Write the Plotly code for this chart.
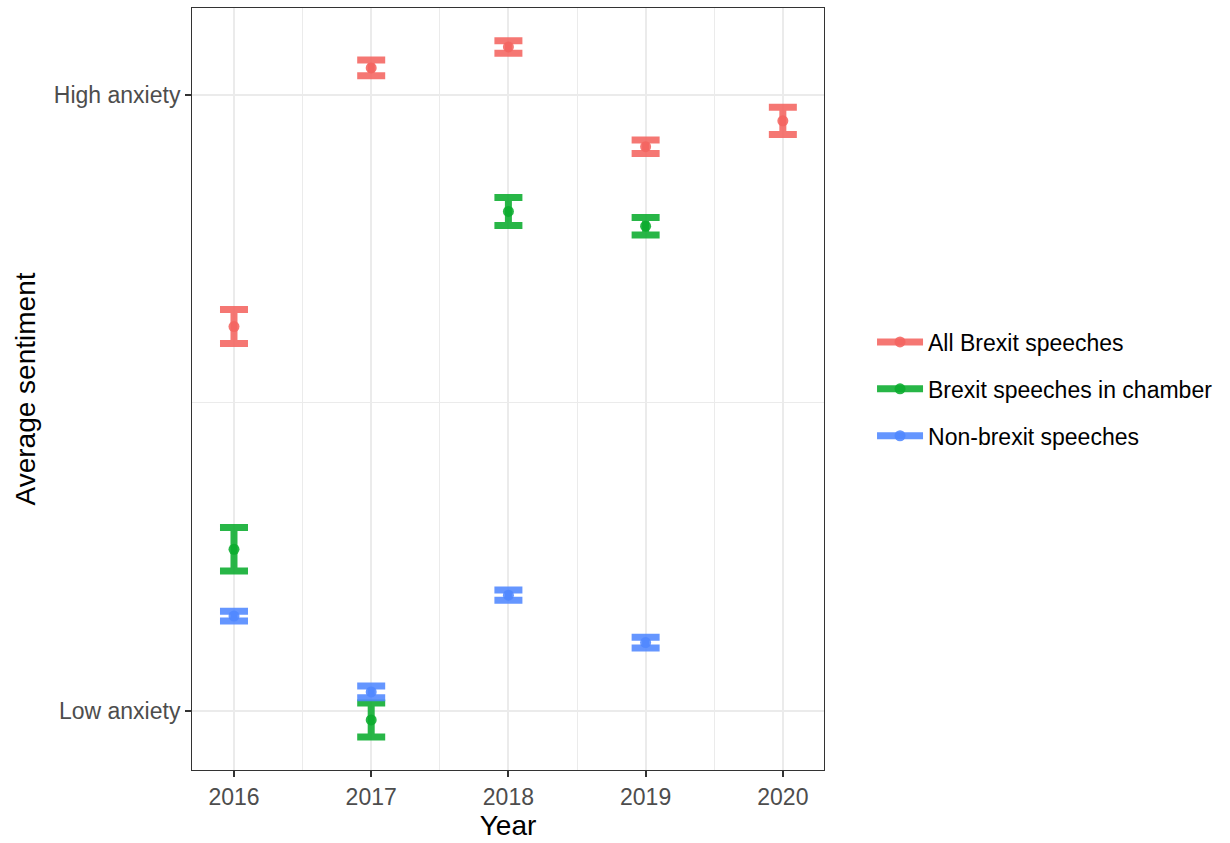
import plotly.graph_objects as go

# Sentiment on a 0 (low anxiety) .. 1 (high anxiety) scale, with half-width of the error bars
years = [2016, 2017, 2018, 2019, 2020]

all_brexit = [0.624, 1.044, 1.078, 0.916, 0.958]
all_brexit_err = [0.0276, 0.0126, 0.0102, 0.0110, 0.0221]

chamber_years = [2016, 2017, 2018, 2019]
chamber = [0.2625, -0.0146, 0.811, 0.787]
chamber_err = [0.0352, 0.0276, 0.0227, 0.0143]

non_brexit_years = [2016, 2017, 2018, 2019]
non_brexit = [0.154, 0.031, 0.188, 0.111]
non_brexit_err = [0.0081, 0.0094, 0.0084, 0.0089]

series_names = ["All Brexit speeches", "Brexit speeches in chamber", "Non-brexit speeches"]
y_tick_vals = [0, 1]
y_tick_text = ["Low anxiety", "High anxiety"]

colors = [(244, 100, 96), (10, 172, 45), (80, 136, 255)]


def rgba(c, a):
    return f"rgba({c[0]},{c[1]},{c[2]},{a})"


fig = go.Figure()

series = [
    (years, all_brexit, all_brexit_err),
    (chamber_years, chamber, chamber_err),
    (non_brexit_years, non_brexit, non_brexit_err),
]

for (xs, ys, es), name, c in zip(series, series_names, colors):
    fig.add_trace(go.Scatter(
        x=xs, y=ys, mode="markers", name=name, showlegend=False,
        marker=dict(size=11, color=rgba(c, 0.88)),
        error_y=dict(type="data", array=es, visible=True, color=rgba(c, 0.88),
                     thickness=7, width=14),
    ))
    # legend key: thick line with a dot
    fig.add_trace(go.Scatter(
        x=[None], y=[None], mode="lines+markers", name=name, legendgroup=name,
        line=dict(color=rgba(c, 0.88), width=7),
        marker=dict(size=11, color=rgba(c, 0.88)),
    ))

axis_common = dict(
    showline=True, mirror=True, linecolor="#333333", linewidth=1,
    ticks="outside", ticklen=6, tickcolor="#333333", tickwidth=1.5,
    showgrid=True, gridcolor="#EBEBEB", gridwidth=2, zeroline=False,
    tickfont=dict(size=23, color="#4D4D4D", family="Liberation Sans"),
)

fig.update_xaxes(
    range=[2015.694, 2020.3], tickvals=years, ticktext=[str(y) for y in years],
    title=dict(text="Year", font=dict(size=28, color="black", family="Liberation Sans"), standoff=6),
    minor=dict(dtick=0.5, tick0=2015.5, showgrid=True, gridcolor="#EBEBEB", gridwidth=1, ticklen=0),
    **axis_common,
)
fig.update_yaxes(
    range=[-0.0958, 1.1412], tickvals=y_tick_vals, ticktext=y_tick_text,
    title=dict(text="Average sentiment", font=dict(size=28, color="black", family="Liberation Sans"), standoff=10),
    minor=dict(tickvals=[0.5], showgrid=True, gridcolor="#EBEBEB", gridwidth=1, ticklen=0),
    **axis_common,
)

fig.update_layout(
    width=1230, height=843,
    margin=dict(l=192, r=406, t=8, b=73),
    plot_bgcolor="white", paper_bgcolor="white",
    font=dict(family="Liberation Sans", color="black"),
    legend=dict(x=1.076, xanchor="left", y=0.5, yanchor="middle",
                font=dict(size=23, color="black"), tracegroupgap=14,
                itemwidth=46, bgcolor="rgba(0,0,0,0)"),
)

fig.write_html("out.html")
